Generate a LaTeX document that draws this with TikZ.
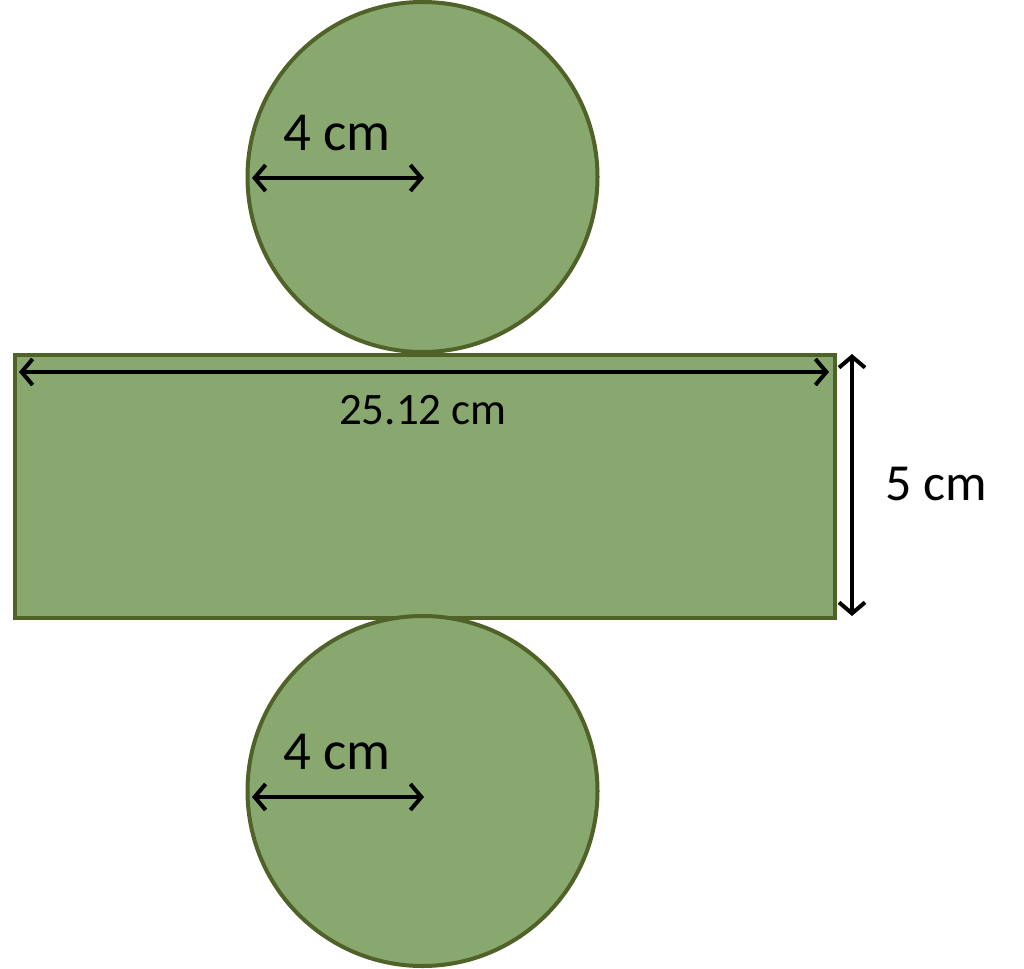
\documentclass[tikz,border=0pt]{standalone}
\usepackage{fontspec}
\setmainfont{Carlito}
\usetikzlibrary{arrows.meta}
\definecolor{fillgreen}{RGB}{136,168,112}
\definecolor{edgegreen}{RGB}{79,98,40}
\tikzset{
  shapefill/.style={fill=fillgreen, draw=edgegreen, line width=4pt},
  dimarrow/.style={draw=black, line width=4pt, {Straight Barb[length=11pt,width=26pt,line width=4pt]}-{Straight Barb[length=11pt,width=26pt,line width=4pt]}},
  lbl/.style={inner sep=0pt, text=black}
}
\begin{document}
\begin{tikzpicture}[x=1pt,y=-1pt]
\useasboundingbox (0,0) rectangle (1024,968);
% rectangle
\node[shapefill, minimum width=820pt, minimum height=263pt, inner sep=0pt, anchor=north west] (rect) at (12.5,353) {};
% circles
\node[shapefill, circle, minimum size=350pt, inner sep=0pt] (ctop) at (422.5,177) {};
\node[shapefill, circle, minimum size=350pt, inner sep=0pt] (cbot) at (422.5,791) {};
% coordinates for arrows
\coordinate (ta) at (252,178);
\coordinate (tb) at (424,178);
\coordinate (ba) at (252,797);
\coordinate (bb) at (424,797);
\coordinate (ha) at (19,372);
\coordinate (hb) at (829,372);
\coordinate (va) at (852,354);
\coordinate (vb) at (852,616);
\draw[dimarrow] (ta) -- (tb);
\draw[dimarrow] (ba) -- (bb);
\draw[dimarrow] (ha) -- (hb);
\draw[dimarrow] (va) -- (vb);
% labels
\node[lbl, font=\fontsize{55}{60}\selectfont] (ltop) at (337,133) {4 cm};
\node[lbl, font=\fontsize{55}{60}\selectfont] (lbot) at (337,752) {4 cm};
\node[lbl, font=\fontsize{45}{50}\selectfont] (lw) at (423,410) {25.12 cm};
\node[lbl, font=\fontsize{52}{56}\selectfont] (lh) at (936,484) {5 cm};
\end{tikzpicture}
\end{document}
